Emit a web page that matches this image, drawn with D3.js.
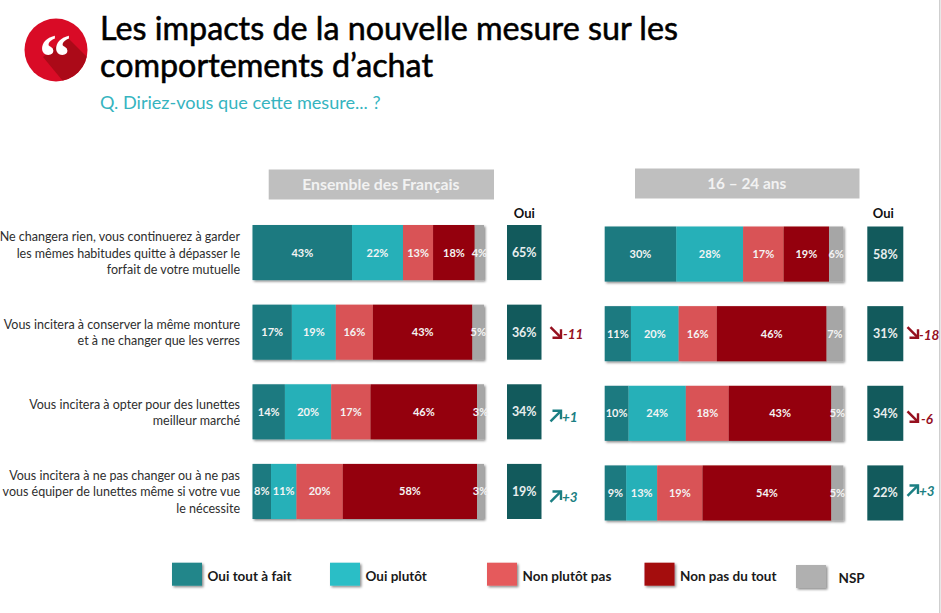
<!DOCTYPE html>
<html lang="fr">
<head>
<meta charset="utf-8">
<title>Les impacts de la nouvelle mesure</title>
<script src="https://cdn.jsdelivr.net/npm/d3@7"></script>
<style>
  html, body { margin: 0; padding: 0; background: #fff; }
  svg { display: block; font-family: Lato, "Open Sans", sans-serif; }
</style>
</head>
<body>
<svg id="chart" width="941" height="613"></svg>
<script>
const titleLines = ["Les impacts de la nouvelle mesure sur les", "comportements d’achat"];
const subtitle = "Q. Diriez-vous que cette mesure... ?";

const questions = [
  ["Ne changera rien, vous continuerez à garder", "les mêmes habitudes quitte à dépasser le", "forfait de votre mutuelle"],
  ["Vous incitera à conserver la même monture", "et à ne changer que les verres"],
  ["Vous incitera à opter pour des lunettes", "meilleur marché"],
  ["Vous incitera à ne pas changer ou à ne pas", "vous équiper de lunettes même si votre vue", "le nécessite"]
];

const answers = ["Oui tout à fait", "Oui plutôt", "Non plutôt pas", "Non pas du tout", "NSP"];

// one array per question, same order as answers
const ensembleValues = [
  [43, 22, 13, 18, 4],
  [17, 19, 16, 43, 5],
  [14, 20, 17, 46, 3],
  [8, 11, 20, 58, 3]
];
const jeunesValues = [
  [30, 28, 17, 19, 6],
  [11, 20, 16, 46, 7],
  [10, 24, 18, 43, 5],
  [9, 13, 19, 54, 5]
];
const ensembleOui = [65, 36, 34, 19];
const jeunesOui = [58, 31, 34, 22];
const ensembleDelta = [null, -11, 1, 3];
const jeunesDelta = [null, -18, -6, 3];

const barColors = ["#1c7a80", "#25b0b8", "#d95356", "#94030b", "#a6a6a6"];
const legendColors = ["#20868a", "#29bec6", "#e55a5c", "#a40a10", "#b0b0b0"];
const ouiColor = "#125a5c";

const panels = [
  {
    name: "Ensemble des Français", values: ensembleValues, oui: ensembleOui, delta: ensembleDelta,
    x0: 252.5, x1: 484, y0: 225, y1: 519, head: [268.7, 494, 169.5], headShift: -0.5, headSize: 15.8,
    ouiBox: [507, 541.5], ouiShift: 0, arrowX: 550,
    textX: [563, 562, 562], arrowDy: [0.5, 4, 5], textDy: [2, 6, 6.5]
  },
  {
    name: "16 – 24 ans", values: jeunesValues, oui: jeunesOui, delta: jeunesDelta,
    x0: 604.7, x1: 843.3, y0: 226.5, y1: 520.5, head: [635, 859.5, 168.5], headShift: -0.5, headSize: 15.4,
    ouiBox: [867.3, 903.3], ouiShift: -2, arrowX: 907,
    textX: [919, 921, 919], arrowDy: [-1, 3.5, -2.5], textDy: [1.5, 6, -1.5]
  }
];

const svg = d3.select("#chart");

const defs = svg.append("defs");
defs.append("filter").attr("id", "shadow")
  .attr("x", "-10%").attr("y", "-10%").attr("width", "125%").attr("height", "125%")
  .append("feDropShadow")
  .attr("dx", 1.5).attr("dy", 1.5).attr("stdDeviation", 1.2)
  .attr("flood-color", "#000").attr("flood-opacity", 0.45);
defs.append("clipPath").attr("id", "iconClip")
  .append("circle").attr("cx", 56).attr("cy", 50).attr("r", 31.5);

// page edge line from the slide capture
svg.append("line").attr("x1", 939.8).attr("x2", 939.8).attr("y1", 0).attr("y2", 613)
  .attr("stroke", "#c4c4c4").attr("stroke-width", 1.2);

// quote icon
const icon = svg.append("g");
icon.append("circle").attr("cx", 56).attr("cy", 50).attr("r", 31.5).attr("fill", "#d90b26");
icon.append("path")
  .attr("clip-path", "url(#iconClip)")
  .attr("d", "M43 57 L67 37 L96 66 L72 92 Z")
  .attr("fill", "#ab0a18");
icon.append("text")
  .attr("x", 55).attr("y", 78)
  .attr("text-anchor", "middle")
  .attr("font-family", "'Liberation Serif', serif")
  .attr("font-weight", 700)
  .attr("font-size", 64)
  .attr("fill", "#fff")
  .text("“");

// title block
svg.selectAll("text.title").data(titleLines).join("text")
  .attr("class", "title")
  .attr("x", 100)
  .attr("y", (d, i) => 40 + i * 36.5)
  .attr("font-size", 32.3)
  .attr("fill", "#000")
  .attr("stroke", "#000")
  .attr("stroke-width", 0.55)
  .text(d => d);

svg.append("text")
  .attr("x", 100).attr("y", 109)
  .attr("font-size", 18.1)
  .attr("fill", "#35b4bf")
  .text(subtitle);

// question labels, right aligned in front of the first panel
const labelY = d3.scaleBand()
  .domain(d3.range(questions.length))
  .range([panels[0].y0, panels[0].y1])
  .paddingInner(24.5 / 79.5);

const labels = svg.selectAll("text.question").data(questions).join("text")
  .attr("class", "question")
  .attr("text-anchor", "end")
  .attr("font-size", 12.5)
  .attr("fill", "#2e2e2e");
labels.selectAll("tspan").data(d => d).join("tspan")
  .attr("x", 240)
  .attr("y", function (d, i, nodes) {
    const q = d3.select(this.parentNode).datum();
    const mid = labelY(questions.indexOf(q)) + labelY.bandwidth() / 2;
    return mid + (i - (nodes.length - 1) / 2) * 16.2 + 5;
  })
  .text(d => d);

panels.forEach(p => {
  const g = svg.append("g");

  const x = d3.scaleLinear().domain([0, 100]).range([p.x0, p.x1]);
  const y = d3.scaleBand()
    .domain(d3.range(questions.length))
    .range([p.y0, p.y1])
    .paddingInner(24.5 / 79.5);

  // grey panel header
  g.append("rect")
    .attr("x", p.head[0]).attr("y", p.head[2])
    .attr("width", p.head[1] - p.head[0]).attr("height", 30)
    .attr("fill", "#bfbfbf");
  g.append("text")
    .attr("x", (p.head[0] + p.head[1]) / 2 + p.headShift)
    .attr("y", p.head[2] + 20)
    .attr("text-anchor", "middle")
    .attr("font-size", p.headSize)
    .attr("font-weight", 700)
    .attr("fill", "#f2f2f2")
    .text(p.name);

  const stack = d3.stack().keys(d3.range(answers.length)).value((row, k) => row[k]);
  const rows = stack(p.values);

  // shadow goes on the whole bar so it does not fall on the next segment
  const barRows = g.selectAll("g.row").data(p.values).join("g")
    .attr("class", "row")
    .attr("filter", "url(#shadow)");

  barRows.selectAll("rect").data((d, i) => rows.map((s, k) => ({ k, i, a: s[i][0], b: s[i][1] })))
    .join("rect")
    .attr("x", d => x(d.a))
    .attr("y", d => y(d.i))
    .attr("width", d => x(d.b) - x(d.a))
    .attr("height", y.bandwidth())
    .attr("fill", d => barColors[d.k]);

  barRows.each(function (d, i) {
    d3.select(this.parentNode).selectAll(null)
      .data(rows.map((s, k) => ({ k, a: s[i][0], b: s[i][1] })))
      .join("text")
      .attr("x", s => (x(s.a) + x(s.b)) / 2)
      .attr("y", y(i) + y.bandwidth() / 2 + 4)
      .attr("text-anchor", "middle")
      .attr("font-size", 11)
      .attr("font-weight", 700)
      .attr("fill", "#f4f4f4")
      .text(s => (s.b - s.a) + "%");
  });

  // "Oui" totals
  g.append("text")
    .attr("x", (p.ouiBox[0] + p.ouiBox[1]) / 2 + p.ouiShift)
    .attr("y", 218)
    .attr("text-anchor", "middle")
    .attr("font-size", 13)
    .attr("font-weight", 700)
    .attr("fill", "#111")
    .text("Oui");

  g.selectAll("rect.oui").data(p.oui).join("rect")
    .attr("class", "oui")
    .attr("x", p.ouiBox[0])
    .attr("y", (d, i) => y(i))
    .attr("width", p.ouiBox[1] - p.ouiBox[0])
    .attr("height", y.bandwidth())
    .attr("fill", ouiColor);

  g.selectAll("text.ouiVal").data(p.oui).join("text")
    .attr("class", "ouiVal")
    .attr("x", (p.ouiBox[0] + p.ouiBox[1]) / 2)
    .attr("y", (d, i) => y(i) + y.bandwidth() / 2 + 4.5)
    .attr("text-anchor", "middle")
    .attr("font-size", 12.5)
    .attr("font-weight", 700)
    .attr("fill", "#e8eeee")
    .text(d => d + "%");

  // evolution arrows, first question has none
  const deltas = p.delta.map((v, i) => ({ v, i })).filter(d => d.v !== null);
  deltas.forEach((d, n) => {
    const col = d.v < 0 ? "#96101f" : "#1b7f83";
    const mid = y(d.i) + y.bandwidth() / 2 + p.arrowDy[n];
    const s = d.v < 0 ? 1 : -1;
    const a = g.append("g").attr("transform", `translate(${p.arrowX + 6},${mid})`)
      .attr("fill", "none").attr("stroke", col).attr("stroke-width", 2.4);
    a.append("path").attr("d", `M-5.5 ${-5.5 * s} L5 ${5 * s}`);
    a.append("path").attr("d", `M-3.5 ${5 * s} L5 ${5 * s} L5 ${-3.5 * s}`);
    g.append("text")
      .attr("x", p.textX[n])
      .attr("y", y(d.i) + y.bandwidth() / 2 + p.textDy[n] + 4.5)
      .attr("font-size", 13.5)
      .attr("font-weight", 700)
      .attr("font-style", "italic")
      .attr("fill", col)
      .text((d.v > 0 ? "+" : "-") + Math.abs(d.v));
  });
});

// legend
const legendX = d3.scaleOrdinal().domain(answers).range([172, 330, 487, 644.5, 796]);
const legend = svg.selectAll("g.legend").data(answers).join("g")
  .attr("class", "legend")
  .attr("transform", (d, i) => `translate(${legendX(d)},${i === 4 ? 565 : 562.7})`);
legend.append("rect")
  .attr("width", 30).attr("height", 23)
  .attr("fill", (d, i) => legendColors[i])
  .attr("filter", "url(#shadow)");
legend.append("text")
  .attr("x", (d, i) => (i === 4 ? 42.5 : 35.5))
  .attr("y", 18)
  .attr("font-size", 13.5)
  .attr("font-weight", 700)
  .attr("fill", "#1a1a1a")
  .text(d => d);
</script>
</body>
</html>
